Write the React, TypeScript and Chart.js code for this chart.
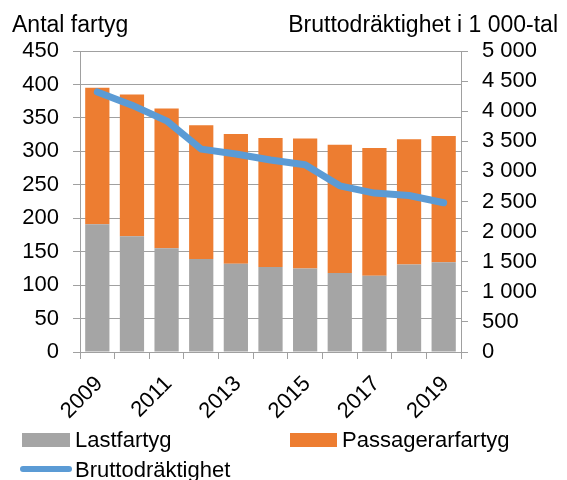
import React, { useEffect, useRef } from "react";
import { Chart, registerables } from "chart.js";

Chart.register(...registerables);

const years = ["2009", "2010", "2011", "2012", "2013", "2014", "2015", "2016", "2017", "2018", "2019"];
const lastfartyg = [191, 173, 155, 139, 132, 127, 125, 118, 114, 131, 134];
const passagerarfartyg = [204, 212, 209, 200, 194, 193, 194, 192, 191, 187, 189];
const bruttodraktighet = [4320, 4100, 3840, 3370, 3290, 3190, 3110, 2760, 2640, 2600, 2480];
const leftTitle = "Antal fartyg";
const rightTitle = "Bruttodräktighet i 1 000-tal";

const FONT = "'Liberation Sans', Arial, sans-serif";
const FS = 22;
const TFS = 23;
const GRAY = "#a5a5a5";
const ORANGE = "#ed7d31";
const BLUE = "#5b9bd5";
const AXIS = "#a0a0a0";

const fmt = (v: number) => {
  const s = Math.round(v).toString();
  return s.replace(/\B(?=(\d{3})+(?!\d))/g, " ");
};

const decorPlugin = {
  id: "decor",
  afterDraw(chart: any) {
    const ctx = chart.ctx;
    ctx.save();
    ctx.fillStyle = "#000";
    ctx.font = `${TFS}px ${FONT}`;
    ctx.textBaseline = "alphabetic";
    ctx.textAlign = "left";
    ctx.fillText(leftTitle, 12, 32);
    ctx.textAlign = "right";
    ctx.fillText(rightTitle, 558, 32);

    // legend
    ctx.font = `${FS}px ${FONT}`;
    ctx.textAlign = "left";
    ctx.fillStyle = GRAY;
    ctx.fillRect(22, 433, 48, 14);
    ctx.fillStyle = "#000";
    ctx.fillText(chart.data.datasets[0].label, 75, 447);
    ctx.fillStyle = ORANGE;
    ctx.fillRect(290, 433, 47, 14);
    ctx.fillStyle = "#000";
    ctx.fillText(chart.data.datasets[1].label, 342, 447);
    ctx.strokeStyle = BLUE;
    ctx.lineWidth = 6;
    ctx.lineCap = "round";
    ctx.beginPath();
    ctx.moveTo(23, 469);
    ctx.lineTo(69, 469);
    ctx.stroke();
    ctx.fillStyle = "#000";
    ctx.fillText(chart.data.datasets[2].label, 75, 477);
    ctx.restore();
  },
};

export default function App() {
  const ref = useRef<HTMLCanvasElement>(null);
  useEffect(() => {
    document.body.style.margin = "0";
    const chart = new Chart(ref.current as HTMLCanvasElement, {
      type: "bar",
      data: {
        labels: years,
        datasets: [
          {
            type: "bar",
            label: "Lastfartyg",
            data: lastfartyg,
            backgroundColor: GRAY,
            yAxisID: "y",
            stack: "s",
            order: 1,
            categoryPercentage: 1,
            barPercentage: 0.7,
          },
          {
            type: "bar",
            label: "Passagerarfartyg",
            data: passagerarfartyg,
            backgroundColor: ORANGE,
            yAxisID: "y",
            stack: "s",
            order: 1,
            categoryPercentage: 1,
            barPercentage: 0.7,
          },
          {
            type: "line",
            label: "Bruttodräktighet",
            data: bruttodraktighet,
            borderColor: BLUE,
            backgroundColor: BLUE,
            borderWidth: 7,
            borderCapStyle: "round",
            borderJoinStyle: "round",
            pointRadius: 0,
            yAxisID: "y1",
            order: 0,
          } as any,
        ],
      },
      options: {
        responsive: false,
        animation: false,
        layout: { padding: { top: 51, bottom: 58, left: 0, right: 0 } },
        plugins: { legend: { display: false }, tooltip: { enabled: false }, title: { display: false } },
        scales: {
          x: {
            stacked: true,
            grid: { display: true, drawOnChartArea: false, drawTicks: true, tickLength: 7, color: AXIS, lineWidth: 1 },
            border: { display: true, color: AXIS, width: 1 },
            ticks: {
              autoSkip: false,
              minRotation: 45,
              maxRotation: 45,
              color: "#000",
              font: { family: FONT, size: FS },
              padding: 12,
              labelOffset: 2,
              callback: (_v: any, i: number) => (i % 2 === 0 ? years[i] : ""),
            },
            afterFit: (s: any) => {
              s.height = 70;
            },
          },
          y: {
            stacked: true,
            position: "left",
            min: 0,
            max: 450,
            grid: { color: AXIS, lineWidth: 1, tickLength: 7, drawTicks: true },
            border: { display: true, color: AXIS, width: 1 },
            ticks: { stepSize: 50, color: "#000", font: { family: FONT, size: FS }, padding: 14 },
            afterFit: (s: any) => {
              s.width = 80;
            },
          },
          y1: {
            position: "right",
            min: 0,
            max: 5000,
            grid: { drawOnChartArea: false, color: AXIS, lineWidth: 1, tickLength: 7, drawTicks: true },
            border: { display: true, color: AXIS, width: 1 },
            ticks: {
              stepSize: 500,
              color: "#000",
              font: { family: FONT, size: FS },
              padding: 14,
              callback: (v: any) => fmt(Number(v)),
            },
            afterFit: (s: any) => {
              s.width = 106;
            },
          },
        },
      },
      plugins: [decorPlugin],
    });
    return () => chart.destroy();
  }, []);
  return (
    <div style={{ position: "absolute", left: 0, top: 0, width: 567, height: 480 }}>
      <canvas ref={ref} width={567} height={480} style={{ display: "block" }} />
    </div>
  );
}
